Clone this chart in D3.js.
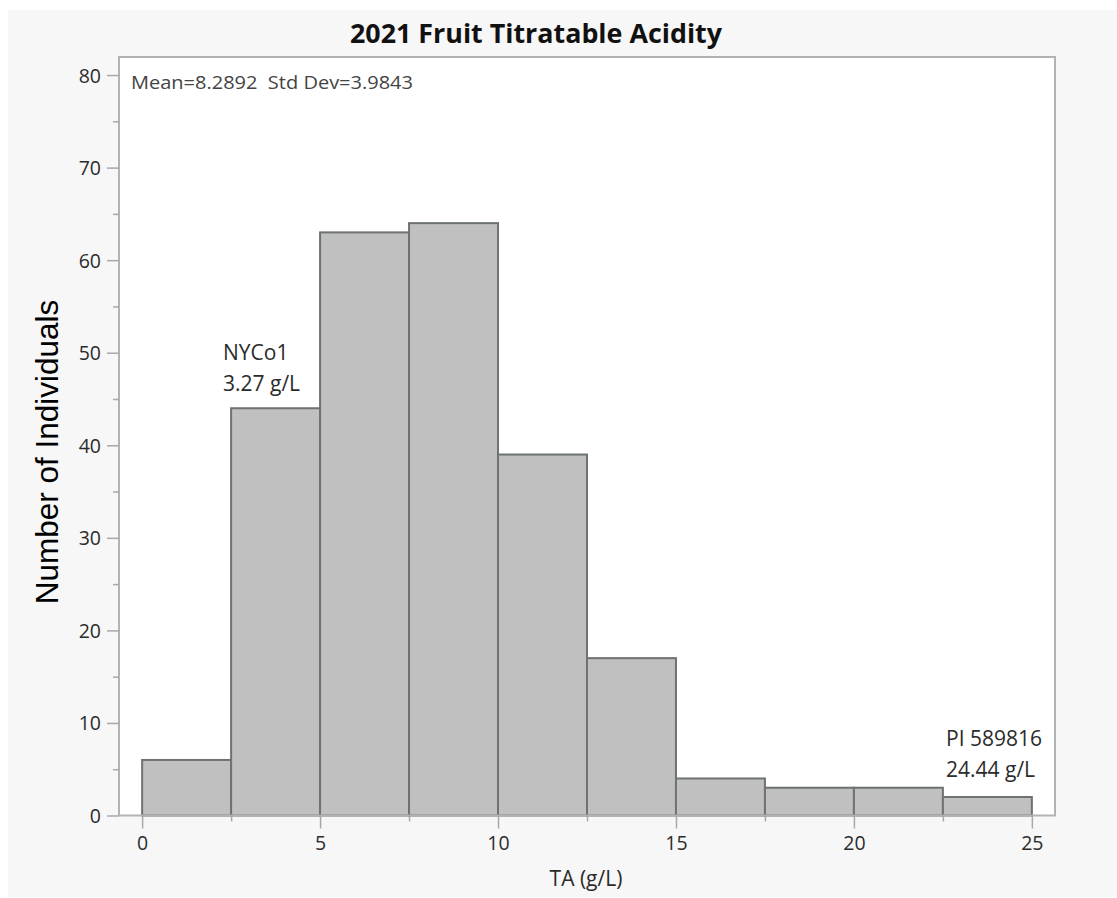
<!DOCTYPE html>
<html>
<head>
<meta charset="utf-8">
<script src="https://cdn.jsdelivr.net/npm/d3@7"></script>
<style>
  html, body { margin: 0; padding: 0; background: #ffffff; }
  svg { display: block; }
  .tick text { font-family: "Open Sans", "Noto Sans", sans-serif; font-size: 19.5px; fill: #2b2b2b; }
</style>
</head>
<body>
<svg id="chart" width="1117" height="898"></svg>
<script>
// Histogram bins of titratable acidity (g/L), width 2.5
const binStarts = [0, 2.5, 5, 7.5, 10, 12.5, 15, 17.5, 20, 22.5];
const binWidth = 2.5;
const counts = [6, 44, 63, 64, 39, 17, 4, 3, 3, 2];

const xMajorTicks = [0, 5, 10, 15, 20, 25];
const xMinorTicks = [2.5, 7.5, 12.5, 17.5, 22.5];
const yMajorTicks = [0, 10, 20, 30, 40, 50, 60, 70, 80];
const yMinorTicks = [5, 15, 25, 35, 45, 55, 65, 75];

const titleText = "2021 Fruit Titratable Acidity";
const summaryText = "Mean=8.2892  Std Dev=3.9843";
const xLabel = "TA (g/L)";
const yLabel = "Number of Individuals";
const lowLabel = ["NYCo1", "3.27 g/L"];
const highLabel = ["PI 589816", "24.44 g/L"];

const svg = d3.select("#chart");

// panel background
svg.append("rect")
  .attr("x", 8).attr("y", 10)
  .attr("width", 1109).attr("height", 887)
  .attr("fill", "#f7f7f7");

const frame = { left: 119, right: 1055, top: 57, bottom: 815.5 };

const x = d3.scaleLinear().domain([-0.65, 25.65]).range([frame.left, frame.right]);
const y = d3.scaleLinear().domain([0, 81.95]).range([frame.bottom, frame.top]);

// plot area
svg.append("rect")
  .attr("x", frame.left).attr("y", frame.top)
  .attr("width", frame.right - frame.left)
  .attr("height", frame.bottom - frame.top)
  .attr("fill", "#ffffff");

// bars
svg.append("g")
  .selectAll("rect")
  .data(binStarts.map((s, i) => ({ x0: s, x1: s + binWidth, n: counts[i] })))
  .join("rect")
  .attr("x", d => x(d.x0))
  .attr("width", d => x(d.x1) - x(d.x0))
  .attr("y", d => y(d.n))
  .attr("height", d => y(0) - y(d.n))
  .attr("fill", "#c0c0c0")
  .attr("stroke", "#6d736d")
  .attr("stroke-width", 2);

// frame outline
svg.append("rect")
  .attr("x", frame.left).attr("y", frame.top)
  .attr("width", frame.right - frame.left)
  .attr("height", frame.bottom - frame.top)
  .attr("fill", "none")
  .attr("stroke", "#b3b3b3")
  .attr("stroke-width", 2);

function styleAxis(g) {
  g.select(".domain").remove();
  g.selectAll(".tick line").attr("stroke", "#a8a8a8").attr("stroke-width", 1.5);
}

// y axis
svg.append("g")
  .attr("transform", `translate(${frame.left},0)`)
  .call(d3.axisLeft(y).tickValues(yMajorTicks).tickSize(12).tickPadding(6).tickFormat(d3.format("d")))
  .call(styleAxis)
  .call(g => g.selectAll(".tick text").attr("dy", "0.36em"));

svg.append("g")
  .attr("transform", `translate(${frame.left},0)`)
  .call(d3.axisLeft(y).tickValues(yMinorTicks).tickSize(6).tickFormat(""))
  .call(styleAxis);

// x axis
svg.append("g")
  .attr("transform", `translate(0,${frame.bottom})`)
  .call(d3.axisBottom(x).tickValues(xMajorTicks).tickSize(13).tickPadding(8).tickFormat(d3.format("d")))
  .call(styleAxis);

svg.append("g")
  .attr("transform", `translate(0,${frame.bottom})`)
  .call(d3.axisBottom(x).tickValues(xMinorTicks).tickSize(6).tickFormat(""))
  .call(styleAxis);

// title
svg.append("text")
  .attr("x", 536).attr("y", 43)
  .attr("text-anchor", "middle")
  .attr("font-family", "'Open Sans', 'Noto Sans', sans-serif")
  .attr("font-weight", "bold")
  .attr("font-size", 27)
  .attr("fill", "#111")
  .attr("textLength", 372)
  .attr("lengthAdjust", "spacingAndGlyphs")
  .text(titleText);

// summary statistics
svg.append("text")
  .attr("x", 131).attr("y", 89)
  .attr("font-family", "'Open Sans', 'Noto Sans', sans-serif")
  .attr("font-size", 18)
  .attr("fill", "#444")
  .attr("textLength", 282)
  .attr("lengthAdjust", "spacingAndGlyphs")
  .style("white-space", "pre")
  .text(summaryText);

// callouts for the extreme individuals
function callout(lines, px, py) {
  const t = svg.append("text")
    .attr("font-family", "'Open Sans', 'Noto Sans', sans-serif")
    .attr("font-size", 21)
    .attr("fill", "#2b2b2b");
  lines.forEach((l, i) => t.append("tspan").attr("x", px).attr("y", py + i * 31).text(l));
}
callout(lowLabel, 223, 360);
callout(highLabel, 946, 746);

// axis titles
svg.append("text")
  .attr("x", 586).attr("y", 886)
  .attr("text-anchor", "middle")
  .attr("font-family", "'Open Sans', 'Noto Sans', sans-serif")
  .attr("font-size", 21)
  .attr("fill", "#2b2b2b")
  .text(xLabel);

svg.append("text")
  .attr("transform", "translate(58,452) rotate(-90)")
  .attr("text-anchor", "middle")
  .attr("font-family", "'Liberation Sans', Arial, sans-serif")
  .attr("font-size", 31.5)
  .attr("fill", "#000")
  .text(yLabel);
</script>
</body>
</html>
